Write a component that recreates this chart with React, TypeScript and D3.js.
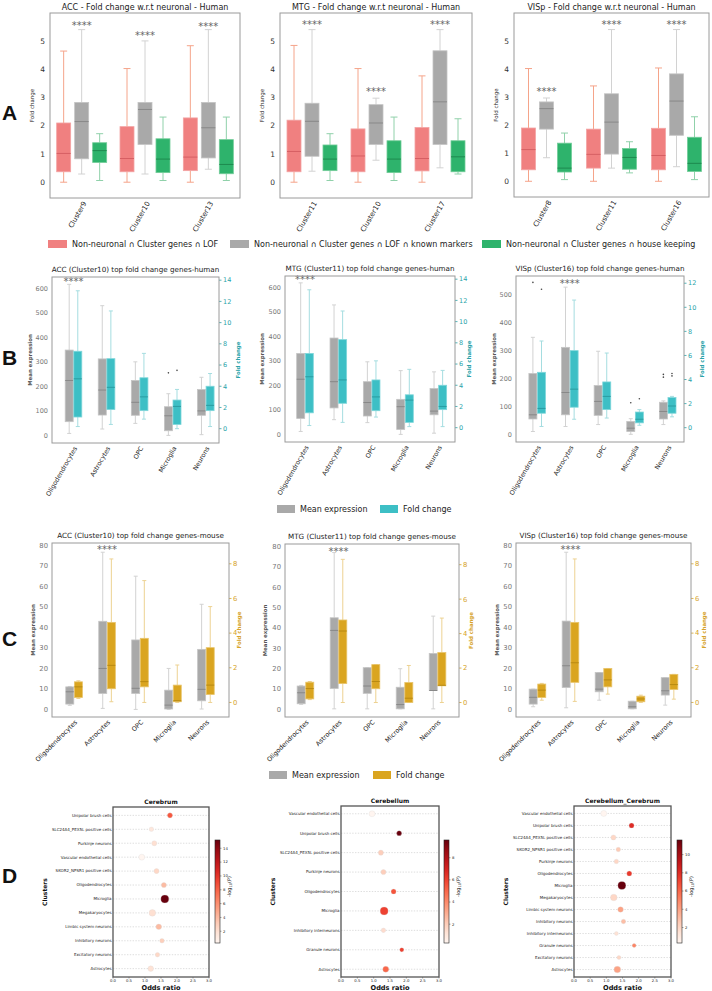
import React from "react";
import * as d3 from "d3";

// ---------------- Panel A data: [low whisker, q1, median, q3, high whisker] ----------------
const A_ACC_CATS = ["Cluster9", "Cluster10", "Cluster13"];
const A_ACC_LOF = [[0, 0.37, 1.02, 2.1, 4.65], [0, 0.37, 0.84, 1.97, 4.03], [0, 0.41, 0.89, 2.28, 4.84]];
const A_ACC_MARK = [[0.29, 0.83, 2.15, 2.83, 5.41], [0.29, 1.34, 2.58, 2.83, 5.01], [0.46, 0.86, 1.93, 2.83, 5.41]];
const A_ACC_HK = [[0.06, 0.7, 1.12, 1.4, 1.72], [0.06, 0.34, 0.82, 1.54, 2.31], [0.06, 0.3, 0.63, 1.51, 2.31]];
const A_ACC_SIG = [5.6, 5.26, 5.57];

const A_MTG_CATS = ["Cluster11", "Cluster10", "Cluster17"];
const A_MTG_LOF = [[0, 0.37, 1.09, 2.2, 4.85], [0, 0.37, 0.93, 1.89, 4.03], [0, 0.4, 0.84, 1.94, 3.77]];
const A_MTG_MARK = [[0.39, 0.92, 2.16, 2.8, 5.41], [0.78, 1.34, 2.1, 2.75, 2.98], [0.51, 1.34, 2.85, 4.66, 5.41]];
const A_MTG_HK = [[0.06, 0.41, 0.82, 1.32, 1.72], [0.06, 0.34, 0.82, 1.47, 2.31], [0.29, 0.37, 0.9, 1.47, 2.25]];
const A_MTG_SIG = [5.63, 3.27, 5.63];

const A_VIS_CATS = ["Cluster8", "Cluster11", "Cluster16"];
const A_VIS_LOF = [[0, 0.41, 1.13, 1.9, 4.02], [0, 0.47, 0.96, 1.86, 3.4], [0, 0.41, 0.92, 1.89, 4.04]];
const A_VIS_MARK = [[0.84, 1.86, 2.59, 2.83, 2.97], [0.47, 0.97, 2.11, 3.12, 5.41], [0.52, 1.64, 2.86, 3.83, 5.41]];
const A_VIS_HK = [[0.06, 0.33, 0.47, 1.36, 1.72], [0.3, 0.43, 0.85, 1.17, 1.41], [0.06, 0.35, 0.64, 1.57, 2.3]];
const A_VIS_SIG = [3.26, 5.65, 5.63];

const A_TICKS = [0, 1, 2, 3, 4, 5];
const A_LEGEND = [
  "Non-neuronal \u2229 Cluster genes \u2229 LOF",
  "Non-neuronal \u2229 Cluster genes \u2229 LOF \u2229 known markers",
  "Non-neuronal \u2229 Cluster genes \u2229 house keeping",
];

// ---------------- Panel B data (human) ----------------
const CELL_TYPES = ["Oligodendrocytes", "Astrocytes", "OPC", "Microglia", "Neurons"];

const B_ACC_MEAN = [[8, 56, 224, 348, 616], [26, 83, 185, 312, 529], [49, 82, 135, 224, 300], [0, 19, 80, 117, 170], [3, 82, 100, 187, 237]];
const B_ACC_FC = [[0.2, 1.1, 4.7, 7.3, 13.0], [0.4, 1.8, 3.9, 6.6, 11.1], [0.9, 1.7, 3.0, 4.8, 7.1], [0, 0.4, 2.1, 2.7, 3.7], [0.2, 1.7, 2.2, 4.0, 5.2]];
const B_ACC_MEAN_OUT = [[], [], [], [255], []];
const B_ACC_FC_OUT = [[], [], [], [5.5], []];

const B_MTG_MEAN = [[12, 65, 225, 330, 618], [60, 108, 215, 393, 528], [48, 75, 130, 215, 296], [0, 20, 113, 143, 260], [5, 80, 95, 187, 255]];
const B_MTG_FC = [[0.2, 1.4, 4.8, 7.0, 13.0], [0.5, 2.3, 4.5, 8.3, 11.0], [1.0, 1.6, 2.9, 4.5, 6.3], [0.1, 0.5, 2.6, 3.1, 5.5], [0.1, 1.7, 2.0, 4.0, 5.4]];
const B_MTG_MEAN_OUT = [[], [], [], [], []];
const B_MTG_FC_OUT = [[], [], [], [], []];

const B_VIS_MEAN = [[10, 55, 70, 218, 348], [28, 70, 150, 312, 528], [35, 68, 118, 175, 298], [0, 10, 22, 46, 56], [35, 55, 82, 115, 120]];
const B_VIS_FC = [[0.1, 1.2, 1.6, 4.6, 7.2], [0.7, 1.7, 3.2, 6.4, 10.6], [0.8, 1.5, 2.6, 3.8, 6.2], [0.2, 0.4, 0.7, 1.3, 1.5], [0.9, 1.2, 1.8, 2.5, 2.6]];
const B_VIS_MEAN_OUT = [[545], [], [], [113], [215, 205]];
const B_VIS_FC_OUT = [[11.5], [], [], [2.4], [4.5, 4.3]];

// ---------------- Panel C data (mouse) ----------------
const C_ACC_MEAN = [[2.0, 2.6, 8.6, 11.0, 11.2], [0.5, 7.8, 20, 43, 76.7], [0, 7.8, 10.3, 33.9, 65], [0, 0.2, 2.1, 9.4, 20], [0.2, 4.2, 9.8, 29.3, 51.3]];
const C_ACC_FC = [[0.23, 0.29, 0.9, 1.19, 1.25], [0.04, 0.79, 2.14, 4.62, 8.28], [0, 0.9, 1.2, 3.7, 7.03], [0, 0.04, 0.1, 1.0, 2.16], [0, 0.46, 1.0, 3.16, 5.53]];

const C_MTG_MEAN = [[2.5, 2.8, 8.2, 11.5, 11.8], [0.3, 10.3, 38.8, 45, 77], [0.3, 7.9, 11.5, 20.5, 20.5], [0.3, 0.3, 2.4, 10.9, 20], [0.3, 9.3, 9.3, 27.5, 45.8]];
const C_MTG_FC = [[0.17, 0.21, 0.81, 1.18, 1.22], [0, 1.1, 4.15, 4.79, 8.31], [0, 0.8, 1.22, 2.2, 2.2], [0, 0, 0.25, 1.16, 2.15], [0, 0.97, 1.0, 2.9, 4.9]];

const C_VIS_MEAN = [[1.3, 2.6, 5.9, 9.9, 9.9], [0.8, 10.7, 21.3, 43.1, 76.7], [4.5, 8.6, 9.9, 18, 18], [0.3, 0.3, 1.3, 4.0, 4.0], [2.1, 7.0, 9.1, 15.5, 15.5]];
const C_VIS_FC = [[0.13, 0.29, 0.71, 1.06, 1.1], [0.06, 1.16, 2.29, 4.62, 8.28], [0.48, 0.9, 1.3, 1.96, 1.96], [0, 0.04, 0.2, 0.36, 0.42], [0.19, 0.75, 1.03, 1.62, 1.62]];
const EMPTY_OUT = [[], [], [], [], []];

// ---------------- Panel D data ----------------
const D1_CELLS = ["Unipolar brush cells", "SLC24A4_PEX5L positive cells", "Purkinje neurons", "Vascular endothelial cells", "SKOR2_NPSR1 positive cells", "Oligodendrocytes", "Microglia", "Megakaryocytes", "Limbic system neurons", "Inhibitory neurons", "Excitatory neurons", "Astrocytes"];
const D1_OR = [1.78, 1.2, 1.29, 0.9, 1.36, 1.59, 1.62, 1.23, 1.43, 1.53, 1.39, 1.18];
const D1_P = [8.5, 1.5, 2, 0.3, 2.5, 4, 15.2, 2, 4, 3, 2.5, 1.8];
const D1_N = [10, 8, 10, 14, 10, 10, 25, 17, 12, 8, 8, 12];

const D2_CELLS = ["Vascular endothelial cells", "Unipolar brush cells", "SLC24A4_PEX5L positive cells", "Purkinje neurons", "Oligodendrocytes", "Microglia", "Inhibitory interneurons", "Granule neurons", "Astrocytes"];
const D2_OR = [0.95, 1.78, 1.22, 1.3, 1.61, 1.32, 1.3, 1.86, 1.37];
const D2_P = [0.3, 9.6, 2, 2, 5.5, 6, 1.5, 6, 5];
const D2_N = [14, 10, 10, 10, 10, 25, 8, 7, 14];

const D3_CELLS = ["Vascular endothelial cells", "Unipolar brush cells", "SLC24A4_PEX5L positive cells", "SKOR2_NPSR1 positive cells", "Purkinje neurons", "Oligodendrocytes", "Microglia", "Megakaryocytes", "Limbic system neurons", "Inhibitory neurons", "Inhibitory interneurons", "Granule neurons", "Excitatory neurons", "Astrocytes"];
const D3_OR = [0.92, 1.78, 1.22, 1.37, 1.31, 1.71, 1.48, 1.23, 1.44, 1.53, 1.31, 1.86, 1.39, 1.34];
const D3_P = [0.3, 8, 2, 2.5, 2, 7.5, 11.6, 2, 4, 3, 1.5, 5, 2, 4];
const D3_N = [14, 10, 10, 8, 8, 10, 25, 17, 12, 8, 6, 6, 6, 17];

const OR_TICKS = [0, 0.5, 1, 1.5, 2, 2.5, 3];

// ---------------- styles ----------------
const FONT = "'DejaVu Sans', sans-serif";
const RED = { fill: "#f08080", stroke: "#f3a3a3", med: "#d65f63", whisk: "#f5a48a" };
const GRAY = { fill: "#a9a9a9", stroke: "#c4c4c4", med: "#888888", whisk: "#d2d2d2" };
const GREEN = { fill: "#2eb36c", stroke: "#72cc98", med: "#1e8a4f", whisk: "#90d1aa" };
const TEAL = { fill: "#3dbfc5", stroke: "#7fd6da", med: "#2a9ca1", whisk: "#a5dde0" };
const GOLD = { fill: "#daa520", stroke: "#e8c46a", med: "#b88a12", whisk: "#edd292" };

type Col = { fill: string; stroke: string; med: string; whisk: string };

function Box({ cx, w, s, y, col }: { cx: number; w: number; s: number[]; y: (v: number) => number; col: Col }) {
  const [lo, q1, md, q3, hi] = s;
  const cw = w * 0.5;
  return (
    <g>
      <line x1={cx} x2={cx} y1={y(lo)} y2={y(q1)} stroke={col.whisk} strokeWidth={1} />
      <line x1={cx} x2={cx} y1={y(q3)} y2={y(hi)} stroke={col.whisk} strokeWidth={1} />
      <line x1={cx - cw / 2} x2={cx + cw / 2} y1={y(lo)} y2={y(lo)} stroke={col.whisk} strokeWidth={1} />
      <line x1={cx - cw / 2} x2={cx + cw / 2} y1={y(hi)} y2={y(hi)} stroke={col.whisk} strokeWidth={1} />
      <rect x={cx - w / 2} y={y(q3)} width={w} height={Math.max(0.8, y(q1) - y(q3))} fill={col.fill} stroke={col.stroke} strokeWidth={0.8} />
      <line x1={cx - w / 2} x2={cx + w / 2} y1={y(md)} y2={y(md)} stroke={col.med} strokeWidth={1} />
    </g>
  );
}

function PanelA(p: { title: string; cats: string[]; lof: number[][]; mark: number[][]; hk: number[][]; sig: number[]; x0: number; x1: number; y0: number; y1: number }) {
  const { x0, x1, y0, y1 } = p;
  const x = d3.scaleBand<string>().domain(p.cats).range([x0, x1]);
  const y = d3.scaleLinear().domain([-0.56, 6.0]).range([y1, y0]);
  const groups = [
    { data: p.lof, off: -18, c: RED },
    { data: p.mark, off: 0, c: GRAY },
    { data: p.hk, off: 18, c: GREEN },
  ];
  return (
    <g>
      <text x={(x0 + x1) / 2} y={y0 - 3} textAnchor="middle" fontSize={8} fill="#222">{p.title}</text>
      {A_TICKS.map((t) => (
        <text key={t} x={x0 - 5} y={y(t)} dy="0.35em" textAnchor="end" fontSize={7.5} fill="#333">{t}</text>
      ))}
      <text transform={`translate(${x0 - 16},${(y0 + y1) / 2}) rotate(-90)`} textAnchor="middle" fontSize={5.5} fill="#222">Fold change</text>
      {p.cats.map((c, i) => {
        const cx = (x(c) as number) + x.bandwidth() / 2;
        return (
          <g key={c}>
            {groups.map((g, j) => (
              <Box key={j} cx={cx + g.off} w={14} s={g.data[i]} y={y} col={g.c} />
            ))}
            <text x={cx} y={y(p.sig[i])} dy={5} textAnchor="middle" fontSize={10} fill="#666">****</text>
            <text transform={`translate(${cx + 3},${y1 + 4}) rotate(-60)`} textAnchor="end" dy="0.35em" fontSize={7} fill="#222">{c}</text>
          </g>
        );
      })}
      <rect x={x0} y={y0} width={x1 - x0} height={y1 - y0} fill="none" stroke="#9a9a9a" strokeWidth={1} />
    </g>
  );
}

type DualProps = {
  title: string; mean: number[][]; fc: number[][]; meanOut: number[][]; fcOut: number[][];
  sigIdx: number; sigVal: number; x0: number; x1: number; y0: number; y1: number;
  xDom: [number, number]; lDom: [number, number]; rDom: [number, number];
  lTicks: number[]; rTicks: number[]; fcCol: Col; rAxisCol: string;
  lLab: number; rLab: number; rot: number; tickFs: number;
};

function DualPanel(p: DualProps) {
  const { x0, x1, y0, y1 } = p;
  const x = d3.scaleLinear().domain(p.xDom).range([x0, x1]);
  const yl = d3.scaleLinear().domain(p.lDom).range([y1, y0]);
  const yr = d3.scaleLinear().domain(p.rDom).range([y1, y0]);
  const bw = 8;
  return (
    <g>
      <text x={(x0 + x1) / 2} y={y0 - 5} textAnchor="middle" fontSize={7.2} fill="#222">{p.title}</text>
      {p.lTicks.map((t) => (
        <text key={t} x={x0 - 4} y={yl(t)} dy="0.35em" textAnchor="end" fontSize={p.tickFs} fill="#777">{t}</text>
      ))}
      {p.rTicks.map((t) => (
        <g key={t}>
          <line x1={x1} x2={x1 + 2.5} y1={yr(t)} y2={yr(t)} stroke={p.rAxisCol} strokeWidth={0.8} />
          <text x={x1 + 4} y={yr(t)} dy="0.35em" textAnchor="start" fontSize={p.tickFs} fill={p.rAxisCol}>{t}</text>
        </g>
      ))}
      <text transform={`translate(${x0 - p.lLab},${(y0 + y1) / 2}) rotate(-90)`} textAnchor="middle" fontSize={5.4} fontWeight="bold" fill="#555">Mean expression</text>
      <text transform={`translate(${x1 + p.rLab},${(y0 + y1) / 2}) rotate(-90)`} textAnchor="middle" fontSize={5.4} fontWeight="bold" fill={p.rAxisCol}>Fold change</text>
      {CELL_TYPES.map((c, i) => {
        const cx = x(i);
        return (
          <g key={c}>
            <Box cx={cx - bw / 2 - 0.3} w={bw} s={p.mean[i]} y={yl} col={GRAY} />
            <Box cx={cx + bw / 2 + 0.3} w={bw} s={p.fc[i]} y={yr} col={p.fcCol} />
            {p.meanOut[i].map((v, k) => (
              <circle key={"m" + k} cx={cx - bw / 2 - 0.3} cy={yl(v)} r={0.8} fill="#444" />
            ))}
            {p.fcOut[i].map((v, k) => (
              <circle key={"f" + k} cx={cx + bw / 2 + 0.3} cy={yr(v)} r={0.8} fill="#444" />
            ))}
            <text transform={`translate(${cx + 2},${y1 + 4}) rotate(${p.rot})`} textAnchor="end" dy="0.35em" fontSize={6.4} fill="#222">{c}</text>
          </g>
        );
      })}
      <text x={x(p.sigIdx)} y={yl(p.sigVal)} dy={5} textAnchor="middle" fontSize={10} fill="#666">****</text>
      <rect x={x0} y={y0} width={x1 - x0} height={y1 - y0} fill="none" stroke="#9a9a9a" strokeWidth={1} />
    </g>
  );
}

function DotPanel(p: { id: string; title: string; cells: string[]; or: number[]; pv: number[]; n: number[]; x0: number; x1: number; y0: number; y1: number; pad: number; cbX: number; cbTicks: number[] }) {
  const { x0, x1, y0, y1 } = p;
  const x = d3.scaleLinear().domain([0, 3]).range([x0, x1]);
  const y = d3.scalePoint<string>().domain(p.cells).range([y0, y1]).padding(p.pad);
  const pmin = d3.min(p.pv) as number;
  const pmax = d3.max(p.pv) as number;
  const col = (v: number) => d3.interpolateReds((v - pmin) / (pmax - pmin));
  const r = d3.scaleSqrt().domain([0, 30]).range([0, 4.4]);
  const cbTop = 840, cbBot = 943;
  const cy = d3.scaleLinear().domain([pmin, pmax]).range([cbBot, cbTop]);
  const stops = d3.range(0, 1.0001, 0.1);
  return (
    <g>
      <defs>
        <linearGradient id={p.id} x1="0" y1="1" x2="0" y2="0">
          {stops.map((s) => (
            <stop key={s} offset={s} stopColor={d3.interpolateReds(s)} />
          ))}
        </linearGradient>
      </defs>
      <text x={(x0 + x1) / 2} y={y0 - 3} textAnchor="middle" fontSize={6} fontWeight="bold" fill="#111">{p.title}</text>
      {p.cells.map((c) => (
        <g key={c}>
          <line x1={x0} x2={x1} y1={y(c)} y2={y(c)} stroke="#c8c8c8" strokeWidth={0.6} strokeDasharray="1.4,1.4" />
          <text x={x0 - 1.5} y={y(c)} dy="0.35em" textAnchor="end" fontSize={4} fill="#222">{c}</text>
        </g>
      ))}
      {p.cells.map((c, i) => (
        <circle key={"d" + c} cx={x(p.or[i])} cy={y(c)} r={r(p.n[i])} fill={col(p.pv[i])} stroke="#d8d8d8" strokeWidth={0.3} />
      ))}
      {OR_TICKS.map((t) => (
        <g key={t}>
          <line x1={x(t)} x2={x(t)} y1={y1} y2={y1 + 1.5} stroke="#444" strokeWidth={0.5} />
          <text x={x(t)} y={y1 + 4.5} textAnchor="middle" fontSize={3.8} fill="#222">{t.toFixed(1)}</text>
        </g>
      ))}
      <text x={(x0 + x1) / 2} y={y1 + 12.5} textAnchor="middle" fontSize={6.6} fontWeight="bold" fill="#111">Odds ratio</text>
      <text transform={`translate(${x0 - 66},${(y0 + y1) / 2}) rotate(-90)`} textAnchor="middle" fontSize={6} fontWeight="bold" fill="#111">Clusters</text>
      <rect x={x0} y={y0} width={x1 - x0} height={y1 - y0} fill="none" stroke="#555" strokeWidth={1.3} />
      <rect x={p.cbX} y={cbTop} width={5} height={cbBot - cbTop} fill={`url(#${p.id})`} stroke="#222" strokeWidth={0.6} />
      {p.cbTicks.map((t) => (
        <g key={t}>
          <line x1={p.cbX + 5} x2={p.cbX + 6.5} y1={cy(t)} y2={cy(t)} stroke="#222" strokeWidth={0.4} />
          <text x={p.cbX + 8} y={cy(t)} dy="0.35em" fontSize={3.8} fill="#222">{t}</text>
        </g>
      ))}
      <text transform={`translate(${p.cbX + 16},${(cbTop + cbBot) / 2 - 5}) rotate(-90)`} textAnchor="middle" fontSize={5} fill="#222">
        -log<tspan fontSize={3.5} dy={1}>10</tspan><tspan dy={-1}>(P)</tspan>
      </text>
    </g>
  );
}

function Legend2({ y, x1, t1, x2, t2, c2 }: { y: number; x1: number; t1: string; x2: number; t2: string; c2: string }) {
  return (
    <g>
      <rect x={x1} y={y - 4} width={18} height={8} fill="#a9a9a9" />
      <text x={x1 + 23} y={y} dy="0.35em" fontSize={8} fill="#222">{t1}</text>
      <rect x={x2} y={y - 4} width={18} height={8} fill={c2} />
      <text x={x2 + 23} y={y} dy="0.35em" fontSize={8} fill="#222">{t2}</text>
    </g>
  );
}

export default function App() {
  const B_L_DOM: [number, number] = [-31, 646];
  const B_R_DOM: [number, number] = [-1.35, 14.3];
  const C_L_DOM: [number, number] = [-3.7, 81.2];
  const C_R_DOM: [number, number] = [-0.84, 9.2];
  const B_L_TICKS = [0, 100, 200, 300, 400, 500, 600];
  const B_R_TICKS = [0, 2, 4, 6, 8, 10, 12, 14];
  const C_L_TICKS = [0, 10, 20, 30, 40, 50, 60, 70, 80];
  const C_R_TICKS = [0, 2, 4, 6, 8];
  const tealAx = "#2aa3a9";
  const goldAx = "#d6a32a";
  return (
    <svg width={712} height={991} style={{ position: "absolute", left: 0, top: 0, background: "#fff" }} fontFamily={FONT}>
      <rect width={712} height={991} fill="#fff" />
      {[["A", 120], ["B", 365], ["C", 646], ["D", 883]].map(([l, yy]) => (
        <text key={l as string} x={2} y={yy as number} fontSize={21} fontWeight="bold" fontFamily="'Liberation Sans', Arial, sans-serif" fill="#111">{l}</text>
      ))}

      <PanelA title="ACC - Fold change w.r.t neuronal - Human" cats={A_ACC_CATS} lof={A_ACC_LOF} mark={A_ACC_MARK} hk={A_ACC_HK} sig={A_ACC_SIG} x0={50} x1={240} y0={13} y1={198} />
      <PanelA title="MTG - Fold change w.r.t neuronal - Human" cats={A_MTG_CATS} lof={A_MTG_LOF} mark={A_MTG_MARK} hk={A_MTG_HK} sig={A_MTG_SIG} x0={280} x1={472} y0={13} y1={198} />
      <PanelA title="VISp - Fold change w.r.t neuronal - Human" cats={A_VIS_CATS} lof={A_VIS_LOF} mark={A_VIS_MARK} hk={A_VIS_HK} sig={A_VIS_SIG} x0={514} x1={709} y0={13} y1={197} />
      <g>
        {[RED, GRAY, GREEN].map((c, i) => {
          const xs = [48, 230, 482][i];
          return (
            <g key={i}>
              <rect x={xs} y={240} width={19} height={8} fill={c.fill} />
              <text x={xs + 24} y={244} dy="0.35em" fontSize={8} fill="#222">{A_LEGEND[i]}</text>
            </g>
          );
        })}
      </g>

      <DualPanel title="ACC (Cluster10) top fold change genes-human" mean={B_ACC_MEAN} fc={B_ACC_FC} meanOut={B_ACC_MEAN_OUT} fcOut={B_ACC_FC_OUT} sigIdx={0} sigVal={634}
        x0={52} x1={219} y0={277} y1={443} xDom={[-0.65, 4.4]} lDom={B_L_DOM} rDom={B_R_DOM} lTicks={B_L_TICKS} rTicks={B_R_TICKS} fcCol={TEAL} rAxisCol={tealAx} lLab={20} rLab={21} rot={-60} tickFs={6.5} />
      <DualPanel title="MTG (Cluster11) top fold change genes-human" mean={B_MTG_MEAN} fc={B_MTG_FC} meanOut={B_MTG_MEAN_OUT} fcOut={B_MTG_FC_OUT} sigIdx={0} sigVal={638}
        x0={285} x1={455} y0={276} y1={442} xDom={[-0.6, 4.5]} lDom={B_L_DOM} rDom={B_R_DOM} lTicks={B_L_TICKS} rTicks={B_R_TICKS} fcCol={TEAL} rAxisCol={tealAx} lLab={21} rLab={16} rot={-60} tickFs={6.5} />
      <DualPanel title="VISp (Cluster16) top fold change genes-human" mean={B_VIS_MEAN} fc={B_VIS_FC} meanOut={B_VIS_MEAN_OUT} fcOut={B_VIS_FC_OUT} sigIdx={1} sigVal={546}
        x0={516} x1={684} y0={276} y1={442} xDom={[-0.65, 4.5]} lDom={[-27.6, 568]} rDom={[-1.19, 12.6]} lTicks={[0, 100, 200, 300, 400, 500]} rTicks={[0, 2, 4, 6, 8, 10, 12]} fcCol={TEAL} rAxisCol={tealAx} lLab={20} rLab={20} rot={-60} tickFs={6.5} />
      <Legend2 y={509} x1={277} t1="Mean expression" x2={380} t2="Fold change" c2={TEAL.fill} />

      <DualPanel title="ACC (Cluster10) top fold change genes-mouse" mean={C_ACC_MEAN} fc={C_ACC_FC} meanOut={EMPTY_OUT} fcOut={EMPTY_OUT} sigIdx={1} sigVal={78.9}
        x0={52} x1={229} y0={543} y1={717} xDom={[-0.67, 4.7]} lDom={C_L_DOM} rDom={C_R_DOM} lTicks={C_L_TICKS} rTicks={C_R_TICKS} fcCol={GOLD} rAxisCol={goldAx} lLab={17} rLab={12} rot={-45} tickFs={6.8} />
      <DualPanel title="MTG (Cluster11) top fold change genes-mouse" mean={C_MTG_MEAN} fc={C_MTG_FC} meanOut={EMPTY_OUT} fcOut={EMPTY_OUT} sigIdx={1} sigVal={78.5}
        x0={285} x1={459} y0={544} y1={717} xDom={[-0.62, 4.65]} lDom={C_L_DOM} rDom={C_R_DOM} lTicks={C_L_TICKS} rTicks={C_R_TICKS} fcCol={GOLD} rAxisCol={goldAx} lLab={18} rLab={14} rot={-45} tickFs={6.8} />
      <DualPanel title="VISp (Cluster16) top fold change genes-mouse" mean={C_VIS_MEAN} fc={C_VIS_FC} meanOut={EMPTY_OUT} fcOut={EMPTY_OUT} sigIdx={1} sigVal={78.9}
        x0={516} x1={691} y0={543} y1={717} xDom={[-0.65, 4.65]} lDom={C_L_DOM} rDom={C_R_DOM} lTicks={C_L_TICKS} rTicks={C_R_TICKS} fcCol={GOLD} rAxisCol={goldAx} lLab={17} rLab={15} rot={-45} tickFs={6.8} />
      <Legend2 y={775} x1={269} t1="Mean expression" x2={373} t2="Fold change" c2={GOLD.fill} />

      <DotPanel id="cb1" title="Cerebrum" cells={D1_CELLS} or={D1_OR} pv={D1_P} n={D1_N} x0={113} x1={209} y0={807} y1={977} pad={0.6} cbX={215} cbTicks={[2, 4, 6, 8, 10, 12, 14]} />
      <DotPanel id="cb2" title="Cerebellum" cells={D2_CELLS} or={D2_OR} pv={D2_P} n={D2_N} x0={341} x1={439} y0={806} y1={977} pad={0.4} cbX={444} cbTicks={[2, 4, 6, 8]} />
      <DotPanel id="cb3" title="Cerebellum_Cerebrum" cells={D3_CELLS} or={D3_OR} pv={D3_P} n={D3_N} x0={574} x1={671} y0={806} y1={977} pad={0.62} cbX={677} cbTicks={[2, 4, 6, 8, 10]} />
    </svg>
  );
}
